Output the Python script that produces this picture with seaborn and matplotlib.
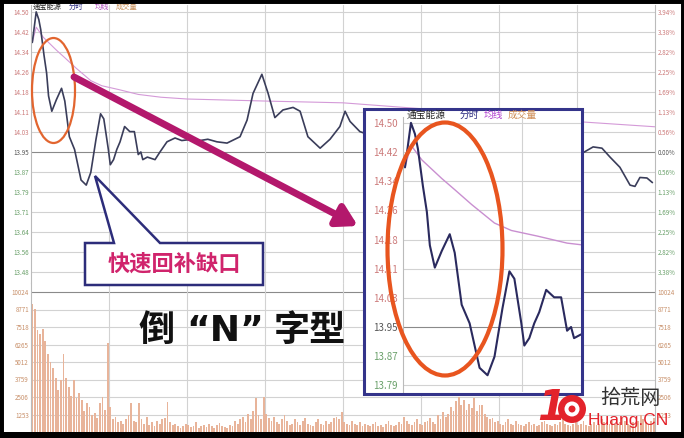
import numpy as np
import pandas as pd
import seaborn as sns
import matplotlib.pyplot as plt
from matplotlib.patches import Ellipse, Polygon, Rectangle, Circle

W, H = 684, 438

# price line (minute of session, price)
price_min = [0.5, 2, 3, 3.75, 5, 6, 6.75, 8, 9.75, 11.75, 13, 14.75, 16.75, 19.25, 21.25,
             23, 25, 26.75, 28, 29.75, 30.5, 31.75, 33, 34.25, 36, 38, 39.75, 41.25, 42.25,
             43, 44.75, 47.7, 49.6, 52.3, 55.4, 58, 62, 65, 68, 71.5, 75.4, 80.4, 83.1,
             85.4, 88.8, 91.2, 93.8, 96.9, 100.8, 103.5, 106.5, 111.2, 115, 118.8, 120.8,
             122.7, 126.5, 135, 145, 155, 165, 175, 185, 195, 205, 212.3, 216.2, 219.6,
             222.7, 226.5, 230.4, 232.3, 234.2, 236.9, 239]
price_val = [14.38, 14.50, 14.47, 14.43, 14.33, 14.26, 14.17, 14.11, 14.155, 14.20, 14.15,
             14.01, 13.96, 13.84, 13.82, 13.87, 14.00, 14.10, 14.08, 13.96, 13.90, 13.92,
             13.96, 13.99, 14.05, 14.03, 14.03, 13.94, 13.95, 13.92, 13.93, 13.92, 13.95,
             13.99, 14.005, 13.995, 14.00, 13.995, 14.00, 13.99, 13.985, 14.01, 14.075,
             14.18, 14.255, 14.18, 14.085, 14.115, 14.125, 14.11, 14.01, 13.965, 14.00,
             14.05, 14.11, 14.07, 14.03, 14.00, 14.06, 14.02, 13.97, 14.04, 14.06, 14.00,
             13.96, 13.947, 13.97, 13.965, 13.93, 13.89, 13.82, 13.815, 13.85, 13.848, 13.83]

# average price line
avg_min = [0.5, 2, 4.75, 9.75, 13, 17.25, 23, 27.25, 33.75, 41.25, 50, 60, 90, 120, 150,
           180, 212, 240]
avg_val = [14.38, 14.44, 14.40, 14.35, 14.32, 14.28, 14.23, 14.21, 14.195, 14.176, 14.165,
           14.158, 14.15, 14.143, 14.12, 14.095, 14.068, 14.049]

# volume per minute
volume = [
    9200, 8800, 7300, 7000, 7400, 6500, 5600, 5000, 4600, 3900, 3000, 3700, 5600, 3900, 3200, 2600, 3700, 2400, 2800, 2300,
    1500, 2100, 1800, 1200, 1350, 1000, 2100, 2500, 1600, 6400, 1800, 900, 1050, 700, 800, 600, 950, 1200, 2100, 800,
    700, 2100, 900, 600, 1100, 500, 700, 400, 800, 600, 900, 1000, 2150, 700, 500, 600, 400, 300, 450, 600,
    500, 350, 400, 700, 300, 450, 500, 350, 600, 400, 300, 500, 650, 400, 350, 300, 500, 450, 800, 600,
    900, 1100, 700, 1300, 900, 1500, 2400, 1200, 900, 2500, 1300, 1000, 800, 1100, 700, 600, 900, 1200, 800, 500,
    600, 900, 700, 500, 800, 1000, 600, 500, 400, 700, 900, 600, 500, 800, 600, 700, 1000, 1100, 900, 1400,
    700, 600, 500, 800, 600, 500, 700, 400, 600, 500, 450, 600, 700, 400, 500, 350, 600, 800, 500, 400,
    500, 700, 600, 1100, 800, 600, 500, 700, 900, 600, 500, 700, 800, 1000, 700, 600, 1200, 900, 1400, 1100,
    1300, 1800, 1500, 2200, 2500, 1900, 2300, 1600, 2000, 1700, 2400, 1500, 1900, 1950, 1300, 1100, 900, 1000, 700, 800,
    600, 500, 700, 900, 600, 500, 800, 600, 500, 400, 600, 700, 500, 600, 400, 500, 700, 800, 600, 500,
    400, 600, 500, 700, 1300, 600, 500, 400, 600, 700, 500, 600, 800, 500, 400, 600, 700, 500, 600, 900,
    700, 500, 600, 800, 600, 500, 700, 1000, 800, 600, 500, 700, 600, 800, 1200, 900, 700, 600, 800, 1000]
minutes = np.arange(len(volume)) + 0.5

pre_close = 13.95
step = 0.0785
price_labels = ["14.50", "14.42", "14.34", "14.26", "14.18", "14.11", "14.03",
                "13.95", "13.87", "13.79", "13.71", "13.64", "13.56", "13.48"]
pct_labels = ["3.94%", "3.38%", "2.82%", "2.25%", "1.69%", "1.13%", "0.56%",
              "0.00%", "0.56%", "1.13%", "1.69%", "2.25%", "2.82%", "3.38%"]
inset_labels = price_labels[:10]
vol_labels = ["1253", "2506", "3759", "5012", "6265", "7518", "8771", "10024"]

UP, DOWN, FLAT, VOLC = "#cc7a7a", "#6aa06a", "#555555", "#c8906a"
LINE, AVG, GRID = "#3a3d5a", "#d49ad8", "#d2d2d2"

sns.set_theme(style="white")
plt.rcParams['font.family'] = ['Noto Sans CJK SC', 'DejaVu Sans']
plt.rcParams['axes.unicode_minus'] = False


def box(x0, y0, x1, y1):
    return [x0 / W, 1 - y1 / H, (x1 - x0) / W, (y1 - y0) / H]


def price_lim(y_top, y_bot, y_pre, px):
    return pre_close - (y_bot - y_pre) / px * step, pre_close + (y_pre - y_top) / px * step


def color_of(i, n_up):
    return UP if i < n_up else (FLAT if i == n_up else DOWN)


fig = plt.figure(figsize=(6.84, 4.38), dpi=100)
fig.patch.set_facecolor("white")

# ---- main price panel
ax = fig.add_axes(box(31, 5, 655, 283))
ticks = [pre_close + step * k for k in range(7, -7, -1)]
for i, t in enumerate(ticks):
    ax.axhline(t, color="#8a8a8a" if i == 7 else GRID, lw=0.8, zorder=0)
for v in range(30, 240, 30):
    ax.axvline(v, color=GRID, lw=0.8, zorder=0)
sns.lineplot(x=avg_min, y=avg_val, ax=ax, color=AVG, lw=0.8)
sns.lineplot(x=price_min, y=price_val, ax=ax, color=LINE, lw=1.2)
ax.set_xlim(0, 240)
ax.set_ylim(price_lim(5, 283, 152, 20))
ax.set_xticks([])
ax.set_yticks(ticks)
ax.set_yticklabels(price_labels, fontsize=4.5)
ax.tick_params(axis="y", length=0, pad=1.5)
ax.set_xlabel("")
ax.set_ylabel("")
for i, lab in enumerate(ax.get_yticklabels()):
    lab.set_color(color_of(i, 7))
for s in ["top", "bottom"]:
    ax.spines[s].set_visible(False)
for s in ["left", "right"]:
    ax.spines[s].set_color("#bbbbbb")
    ax.spines[s].set_linewidth(0.8)

ax2 = ax.twinx()
ax2.set_ylim(ax.get_ylim())
ax2.set_yticks(ticks)
ax2.set_yticklabels(pct_labels, fontsize=4.5)
ax2.tick_params(axis="y", length=0, pad=2)
for i, lab in enumerate(ax2.get_yticklabels()):
    lab.set_color(color_of(i, 7))
for s in ax2.spines.values():
    s.set_visible(False)

# ---- volume panel
axv = fig.add_axes(box(31, 283, 655, 432))
vticks = [1253.0 * k for k in range(1, 9)]
for i, t in enumerate(vticks):
    axv.axhline(t, color="#8a8a8a" if i == 7 else GRID, lw=0.8, zorder=0)
for v in range(30, 240, 30):
    axv.axvline(v, color=GRID, lw=0.8, zorder=0)
sns.barplot(x=minutes, y=volume, native_scale=True, color="#e8b49a", saturation=1,
            width=0.7, errorbar=None, linewidth=0, ax=axv)
axv.set_xlim(0, 240)
axv.set_ylim(0, 10024 * (432 - 283) / (432 - 292))
axv.set_xticks([])
axv.set_yticks(vticks)
axv.set_yticklabels(vol_labels, fontsize=4.5, color=VOLC)
axv.tick_params(axis="y", length=0, pad=1.5)
axv.set_xlabel("")
axv.set_ylabel("")
for s in ["top", "bottom"]:
    axv.spines[s].set_visible(False)
for s in ["left", "right"]:
    axv.spines[s].set_color("#bbbbbb")
    axv.spines[s].set_linewidth(0.8)
axv2 = axv.twinx()
axv2.set_ylim(axv.get_ylim())
axv2.set_yticks(vticks)
axv2.set_yticklabels(vol_labels, fontsize=4.5, color=VOLC)
axv2.tick_params(axis="y", length=0, pad=2)
for s in axv2.spines.values():
    s.set_visible(False)

# ---- annotation layer (pixel coordinates)
ov = fig.add_axes([0, 0, 1, 1])
ov.set_xlim(0, W)
ov.set_ylim(H, 0)
ov.axis("off")
ov.patch.set_alpha(0)

hx = 33
for txt, c, w in [("通宝能源", "#222222", 30), ("分时", "#2a2a80", 20), ("均线", "#b050c0", 15), ("成交量", "#c8905a", 20)]:
    ov.text(hx, 7, txt, fontsize=5.2, color=c, ha="left", va="center")
    hx += w + 6

ov.add_patch(Ellipse((53.5, 90.5), 43, 105, fill=False, ec="#e2652f", lw=1.6))
ov.annotate("", xy=(358, 226), xytext=(74, 77),
            arrowprops=dict(arrowstyle="-|>,head_length=0.6,head_width=0.35", lw=5,
                            color="#b3186c", mutation_scale=20, shrinkA=0, shrinkB=0))
ov.add_patch(Polygon([(85, 243), (114, 243), (95, 176), (160, 243), (263, 243), (263, 285), (85, 285)],
                     closed=True, fc="white", ec="#2d2d7a", lw=1.8))
ov.text(174, 264, "快速回补缺口", fontsize=16, fontweight="bold", color="#d0246c", ha="center", va="center")
ov.text(157, 330, "倒", fontsize=26, fontweight="bold", color="#111111", ha="center", va="center")
ov.text(225, 331, "“N”", fontsize=26, fontweight="bold", color="#111111", ha="center", va="center",
        family=["DejaVu Sans"])
ov.text(310, 330, "字型", fontsize=26, fontweight="bold", color="#111111", ha="center", va="center")

# ---- zoomed inset
inb = fig.add_axes(box(364, 109, 582, 394))
inb.set_xticks([])
inb.set_yticks([])
inb.set_facecolor("white")
for s in inb.spines.values():
    s.set_visible(False)

ina = fig.add_axes(box(403, 117, 581, 392))
iticks = ticks[:10]
for i, t in enumerate(iticks):
    ina.axhline(t, color="#8a8a8a" if i == 7 else GRID, lw=0.8, zorder=0)
ina.axvline(30, color=GRID, lw=0.8, zorder=0)
sns.lineplot(x=avg_min, y=avg_val, ax=ina, color="#c98fd0", lw=1.0)
sns.lineplot(x=price_min, y=price_val, ax=ina, color="#2a2a5e", lw=1.5)
ina.set_xlim(0, 44.75)
ina.set_ylim(price_lim(117, 392, 327, 29.14))
ina.set_xticks([])
ina.set_yticks(iticks)
ina.set_yticklabels(inset_labels, fontsize=7)
ina.tick_params(axis="y", length=0, pad=4)
ina.set_xlabel("")
ina.set_ylabel("")
for i, lab in enumerate(ina.get_yticklabels()):
    lab.set_color(color_of(i, 7))
for s in ["top", "bottom", "right"]:
    ina.spines[s].set_visible(False)
ina.spines["left"].set_color("#bbbbbb")
ina.spines["left"].set_linewidth(0.8)

# ---- top layer
top = fig.add_axes([0, 0, 1, 1])
top.set_xlim(0, W)
top.set_ylim(H, 0)
top.axis("off")
top.patch.set_alpha(0)

top.add_patch(Rectangle((364, 109), 218, 285, fill=False, ec="#34348a", lw=2.2))
hx = 407
for txt, c, w in [("通宝能源", "#222222", 43), ("分时", "#2a2a80", 14), ("均线", "#b040d0", 14), ("成交量", "#d0905a", 24)]:
    top.text(hx, 115, txt, fontsize=7, color=c, ha="left", va="center")
    hx += w + 10
top.add_patch(Ellipse((445, 249), 115, 253, fill=False, ec="#e8551f", lw=3))

# watermark
top.text(552, 408, "1", fontsize=30, fontweight="bold", fontstyle="italic", color="#e3232b",
         ha="center", va="center", family=["DejaVu Sans"])
top.add_patch(Circle((572, 409), 14, fc="#e3232b", ec="none"))
top.add_patch(Circle((572, 409), 7.5, fc="white", ec="none"))
top.add_patch(Circle((572, 409), 3.5, fc="#e3232b", ec="none"))
top.text(630, 398, "拾荒网", fontsize=14.5, color="#333333", ha="center", va="center")
top.text(628, 420, "Huang.CN", fontsize=12.5, color="#e3232b", ha="center", va="center",
         family=["Liberation Sans", "DejaVu Sans"])

# black frame
fig.add_artist(Rectangle((0, 0), 1, 1, transform=fig.transFigure, fill=False, ec="black", lw=5))
fig.add_artist(Rectangle((0, 0), 1, 6 / H, transform=fig.transFigure, fc="black", ec="none"))

fig.savefig("out.png", dpi=100)
